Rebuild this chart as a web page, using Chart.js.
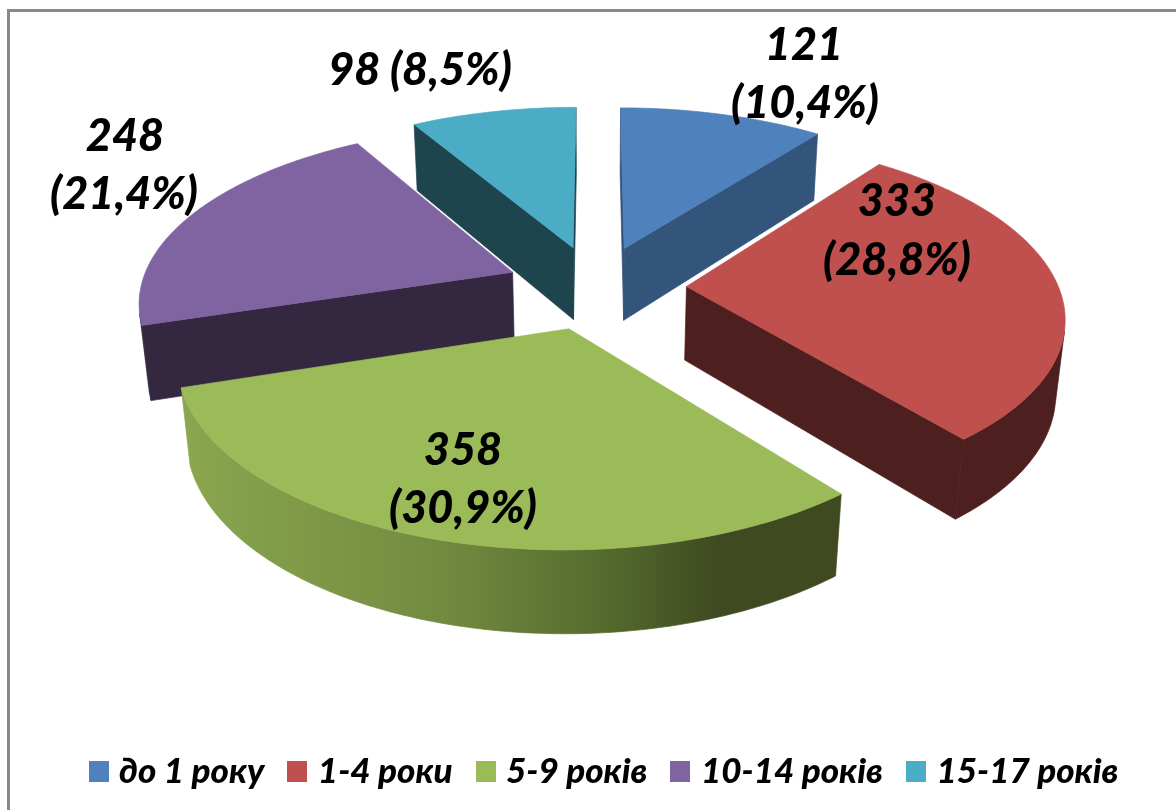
<!DOCTYPE html>
<html>
<head>
<meta charset="utf-8">
<style>
html,body{margin:0;padding:0;background:#fff;overflow:hidden}
#wrap{position:absolute;left:0;top:0;width:1176px;height:810px}
#frame{position:absolute;left:7px;top:9px;width:1169px;height:801px;border-left:3px solid #888;border-top:3px solid #888;box-sizing:border-box}
canvas{position:absolute;left:0;top:0}
</style>
<script src="https://cdn.jsdelivr.net/npm/chart.js@4"></script>
</head>
<body>
<div id="wrap"><div id="frame"></div><canvas id="c" width="1176" height="810"></canvas></div>
<script>
const categories = ['до 1 року','1-4 роки','5-9 років','10-14 років','15-17 років'];
const counts = [121,333,358,248,98];
const percents = ['10,4%','28,8%','30,9%','21,4%','8,5%'];
const topColors = ['#4f81bd','#c0504d','#9bbb59','#8064a2','#4bacc6'];
const sideColors = ['#33547b','#4d1f1e','#7f9b48','#33283f','#1e444e'];
const shadeStops = [[0,'#8aa64e'],[0.4,'#728a40'],[0.65,'#556a2e'],[0.82,'#3f4a20'],[1,'#3f4a20']];
const labelLines = [[true,[[804,45],[805,103]]],[true,[[897,201],[897,260]]],[true,[[463,450],[463,508]]],[true,[[125,136],[124,194]]],[false,[[420,70]]]];

const view = {cx:596,cy:287,A:372,B:173,k:0.153,C:75,m:0.02};
function project(u,a,z){
  const w = 1 + view.k*a + view.m*z;
  return [view.cx + view.A*u/w, view.cy + (-view.B*a + view.C*z)/w];
}
function trace(ctx,pts){
  ctx.beginPath();
  pts.forEach((p,i)=> i?ctx.lineTo(p[0],p[1]):ctx.moveTo(p[0],p[1]));
  ctx.closePath();
}
function area(p){let s=0;for(let i=0;i<p.length;i++){const q=p[(i+1)%p.length];s+=p[i][0]*q[1]-q[0]*p[i][1];}return s/2;}
function paint(ctx,pts,c){trace(ctx,pts);ctx.fillStyle=c;ctx.strokeStyle=c;ctx.lineWidth=0.7;ctx.fill();ctx.stroke();}
function swatch(color){
  const s = document.createElement('canvas');
  s.width = 20; s.height = 21;
  const g = s.getContext('2d');
  g.fillStyle = color;
  g.fillRect(0,0,20,21);
  return s;
}

const pie3d = {
  id:'pie3d',
  beforeDatasetsDraw(chart){
    const ctx = chart.ctx;
    const arcs = chart.getDatasetMeta(0).data;
    const order = [4,0,3,1,2];
    ctx.save();
    order.forEach(i=>{
      const el = arcs[i];
      const {startAngle,endAngle,outerRadius} = el.getProps(['startAngle','endAngle','outerRadius'],true);
      const d = el.options.offset/outerRadius;
      const mid = (startAngle+endAngle)/2;
      const ox = Math.cos(mid)*d, oy = Math.sin(mid)*d;
      const disc = t=>[ox+Math.cos(t), -(oy+Math.sin(t))];
      const steps = Math.max(8,Math.round((endAngle-startAngle)*180/Math.PI));
      const rim = [];
      for(let s=0;s<=steps;s++) rim.push(disc(startAngle+(endAngle-startAngle)*s/steps));
      const apex = [ox,-oy];
      const P = (q,z)=>project(q[0],q[1],z);
      const top = [P(apex,0),...rim.map(q=>P(q,0))];
      const sign = area(top)>0?1:-1;
      const wall = (q1,q2)=>[P(q1,0),P(q2,0),P(q2,1),P(q1,1)];
      [[apex,rim[0]],[rim[rim.length-1],apex]].forEach(([q1,q2])=>{
        const w = wall(q1,q2);
        if(area(w)*sign<0) paint(ctx,w,sideColors[i]);
      });
      let style = sideColors[i];
      if(i===2){
        const g = ctx.createLinearGradient(185,0,835,0);
        shadeStops.forEach(s=>g.addColorStop(s[0],s[1]));
        style = g;
      }
      let run = [];
      const flush = ()=>{
        if(run.length>1) paint(ctx,[...run.map(q=>P(q,0)),...run.slice().reverse().map(q=>P(q,1))],style);
        run = [];
      };
      for(let s=0;s<steps;s++){
        const w = wall(rim[s],rim[s+1]);
        if(area(w)*sign<0){ if(!run.length) run.push(rim[s]); run.push(rim[s+1]); }
        else flush();
      }
      flush();
      paint(ctx,top,el.options.backgroundColor);
    });
    ctx.restore();
    return false;
  },
  afterDraw(chart){
    const ctx = chart.ctx;
    ctx.save();
    ctx.font = 'italic 900 45px Lato, "Open Sans", sans-serif';
    ctx.fillStyle = '#000';
    ctx.textAlign = 'center';
    ctx.textBaseline = 'middle';
    labelLines.forEach(([two,pos],i)=>{
      const a = String(counts[i]), b = '('+percents[i]+')';
      if(two){
        ctx.fillText(a,pos[0][0],pos[0][1]);
        ctx.fillText(b,pos[1][0],pos[1][1]);
      } else {
        ctx.fillText(a+' '+b,pos[0][0],pos[0][1]);
      }
    });
    ctx.restore();
  }
};

new Chart(document.getElementById('c'),{
  type:'pie',
  data:{labels:categories,datasets:[{data:counts,backgroundColor:topColors,borderWidth:0,offset:77}]},
  plugins:[pie3d],
  options:{
    responsive:false,
    animation:false,
    layout:{padding:{left:58,right:20,top:14,bottom:11}},
    plugins:{
      tooltip:{enabled:false},
      legend:{
        position:'bottom',
        labels:{
          usePointStyle:true,boxWidth:6,boxHeight:21,padding:30,color:'#000',
          font:{family:'Lato, "Open Sans", sans-serif',size:35,style:'italic',weight:900},
          generateLabels:()=>categories.map((text,index)=>({text,index,fillStyle:topColors[index],strokeStyle:topColors[index],lineWidth:0,hidden:false,pointStyle:swatch(topColors[index]),fontColor:'#000'}))
        }
      }
    }
  }
});
</script>
</body>
</html>
